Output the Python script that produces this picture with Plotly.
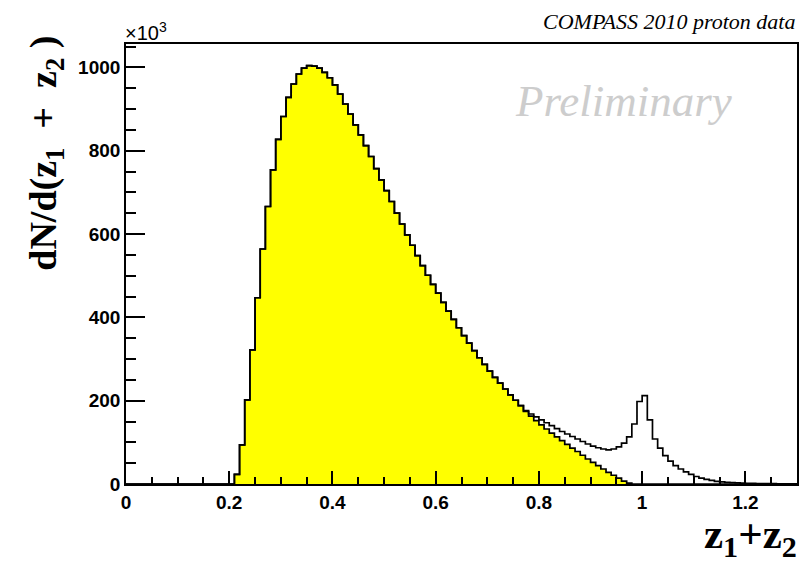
import plotly.graph_objects as go

# ---------------- data (values in units of 10^3 entries) ----------------
BIN_WIDTH = 0.01
X_MAX = 1.3

# bins 0.00 .. 0.76 : both histograms coincide
common_k = [0] * 21 + [
    23, 94, 202, 322, 447, 564, 666, 754, 827, 882, 928, 960, 984, 998, 1004, 1003, 998, 988, 975,
    958, 936, 912, 888, 862, 838, 812, 786, 757, 730, 704, 678, 650, 624, 598, 573, 548, 524, 501, 479,
    458, 436, 415, 395, 375, 356, 338, 320, 303, 287, 271, 256, 242, 228, 214, 201, 188,
]
# bins 0.77 .. 1.29 : all events (open histogram)
total_tail_k = [
    176, 168, 161,
    154, 147, 140, 133, 126, 120, 114, 108, 102, 96,
    91, 87, 84, 82, 84, 89, 98, 113, 144, 198,
    212, 154, 108, 86, 68, 55, 44, 36, 29, 23,
    18, 14, 11, 8.5, 6.5, 5, 4, 3.2, 2.6, 2.1,
    1.7, 1.4, 1.2, 1.0, 0.8, 0.7, 0.6, 0.5, 0.4, 0.35,
]
# bins 0.77 .. 1.29 : selected events (yellow histogram)
yellow_tail_k = [
    174, 163, 152,
    142, 132, 122, 113, 104, 95, 86, 78, 69, 60,
    52, 44, 36, 28, 21, 14, 7, 2, 0, 0,
] + [0] * 30

total_k = common_k + total_tail_k
yellow_k = common_k + yellow_tail_k

x_ticks = [0, 0.2, 0.4, 0.6, 0.8, 1.0, 1.2]
x_ticklabels = ["0", "0.2", "0.4", "0.6", "0.8", "1", "1.2"]
y_ticks = [0, 200, 400, 600, 800, 1000]
y_ticklabels = ["0", "200", "400", "600", "800", "1000"]

n_bins = len(total_k)
edges = [round(i * BIN_WIDTH, 2) for i in range(n_bins + 1)]

# ---------------- figure ----------------
W, H = 804, 568
ML, MR, MT, MB = 126, 5, 44, 84
PW, PH = W - ML - MR, H - MT - MB
Y_MAX = 1056


def px_x(p):
    return (p - ML) / PW


def px_y(p):
    return (H - MB - p) / PH


fig = go.Figure()
fig.add_trace(go.Scatter(
    x=edges, y=yellow_k + [yellow_k[-1]], mode="lines",
    line=dict(shape="hv", color="black", width=1.7),
    fill="tozeroy", fillcolor="#ffff00", hoverinfo="skip", showlegend=False,
))
fig.add_trace(go.Scatter(
    x=edges, y=total_k + [total_k[-1]], mode="lines",
    line=dict(shape="hv", color="black", width=1.7),
    hoverinfo="skip", showlegend=False,
))

tickfont = dict(family="Liberation Sans", size=19, color="black", weight="bold")

fig.update_layout(
    width=W, height=H,
    margin=dict(l=ML, r=MR, t=MT, b=MB, pad=0),
    paper_bgcolor="white", plot_bgcolor="white",
    xaxis=dict(
        range=[0, X_MAX], showgrid=False, zeroline=False,
        showline=True, mirror=True, linecolor="black", linewidth=1.7,
        ticks="inside", ticklen=13, tickwidth=1.5, tickcolor="black",
        tickvals=x_ticks, ticktext=x_ticklabels, tickfont=tickfont,
        minor=dict(ticks="inside", ticklen=7, tickwidth=1.5, tickcolor="black", dtick=0.05, tick0=0, showgrid=False),
    ),
    yaxis=dict(
        range=[0, Y_MAX], showgrid=False, zeroline=False,
        showline=True, mirror=True, linecolor="black", linewidth=1.7,
        ticks="inside", ticklen=19, tickwidth=1.5, tickcolor="black",
        tickvals=y_ticks, ticktext=y_ticklabels, tickfont=tickfont,
        minor=dict(ticks="inside", ticklen=10, tickwidth=1.5, tickcolor="black", dtick=50, tick0=0, showgrid=False),
    ),
)

annotations = [
    dict(text="<i>COMPASS 2010 proton data</i>", x=px_x(799), y=px_y(21), xanchor="right", yanchor="middle",
         font=dict(family="Liberation Serif", size=22, color="black")),
    dict(text="<i>Preliminary</i>", x=px_x(625), y=px_y(101), xanchor="center", yanchor="middle",
         font=dict(family="Liberation Serif", size=45, color="#cdcdcd")),
    dict(text="\u00d710<sup>3</sup>", x=px_x(123), y=px_y(32), xanchor="left", yanchor="middle",
         font=dict(family="Liberation Sans", size=20, color="black")),
    dict(text="dN/d(z<sub>1</sub>&nbsp;&nbsp;+&nbsp;&nbsp;z<sub>2</sub>&nbsp;)", textangle=-90,
         x=px_x(45), y=px_y(34), xanchor="center", yanchor="top",
         font=dict(family="Liberation Serif", size=38, color="black", weight="bold")),
    dict(text="z<sub>1</sub>+z<sub>2</sub>", x=px_x(801), y=px_y(537), xanchor="right", yanchor="middle",
         font=dict(family="Liberation Serif", size=43, color="black", weight="bold")),
]
for a in annotations:
    a.update(xref="paper", yref="paper", showarrow=False)
fig.update_layout(annotations=annotations)

fig.write_html("out.html")
